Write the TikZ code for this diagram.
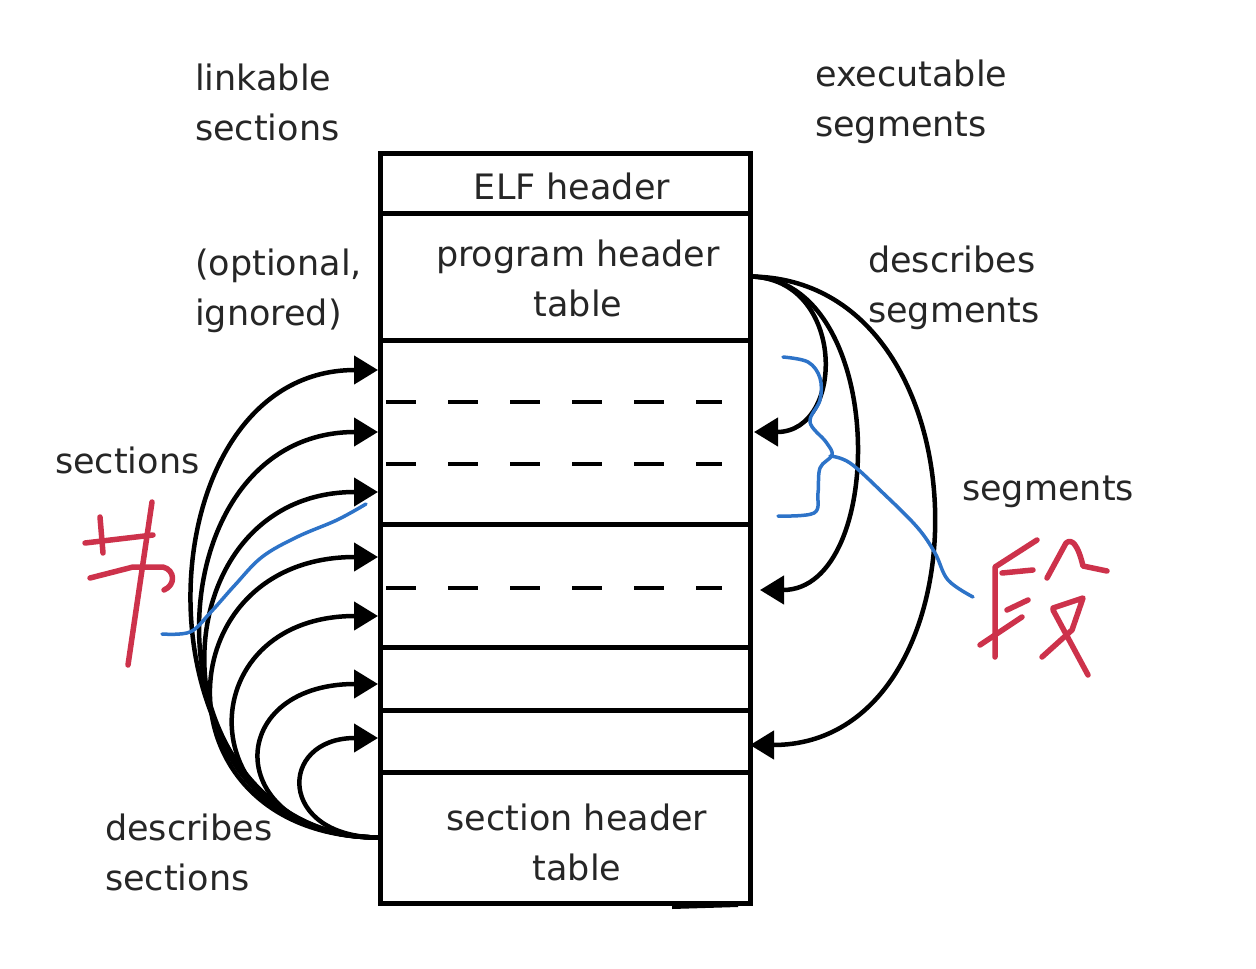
\documentclass[tikz,border=0pt]{standalone}
\usepackage{fontspec}
\setmainfont{DejaVu Sans}
\usetikzlibrary{arrows.meta}
\definecolor{inkblue}{RGB}{45,115,200}
\definecolor{inkred}{RGB}{205,50,75}
\begin{document}
\begin{tikzpicture}[x=1pt,y=-1pt,
  row/.style={draw, line width=5pt, inner sep=0pt, outer sep=0pt, minimum width=370pt, anchor=north west},
  lbl/.style={font=\fontsize{35}{50}\selectfont, text=black!85, align=left, inner sep=0pt, anchor=west},
  ctr/.style={font=\fontsize{35}{50}\selectfont, text=black!85, align=center, inner sep=0pt},
  arr/.style={line width=4.5pt, -{Triangle[length=24pt,width=28pt]}},
  dsh/.style={line width=4.5pt, dash pattern=on 30pt off 32pt},
  blueink/.style={draw=inkblue, line width=3.5pt, line cap=round, line join=round},
  redink/.style={draw=inkred, line width=5.5pt, line cap=round, line join=round}]
\useasboundingbox[fill=white] (0,0) rectangle (1256,969);

% file rows
\node[row, minimum height=60pt]  (elf) at (380,153) {};
\node[row, minimum height=127pt] (pht) at (380,213) {};
\node[row, minimum height=184pt] (s1)  at (380,340) {};
\node[row, minimum height=123pt] (s2)  at (380,524) {};
\node[row, minimum height=63pt]  (s3)  at (380,647) {};
\node[row, minimum height=62pt]  (s4)  at (380,710) {};
\node[row, minimum height=131pt] (sht) at (380,772) {};

\node[ctr] (elft) at (572,186) {ELF header};
\node[ctr] (phtt) at (578,278) {program header\\table};
\node[ctr] (shtt) at (577,842) {section header\\table};

% dashed dividers
\draw[dsh] (386,402) -- (722,402);
\draw[dsh] (386,464) -- (722,464);
\draw[dsh] (386,588) -- (722,588);

% labels
\node[lbl] (lk)  at (195,102) {linkable\\sections};
\node[lbl] (ex)  at (815,102) {executable\\segments};
\node[lbl] (opt) at (195,291) {(optional,\\ignored)};
\node[lbl] (dsg) at (868,288) {describes\\segments};
\node[lbl] (sec) at (55,460) {sections};
\node[lbl] (seg) at (962,492) {segments};
\node[lbl] (dsc) at (105,852) {describes\\sections};

% left arrow targets
\coordinate (L1) at (378,370);
\coordinate (L2) at (378,432);
\coordinate (L3) at (378,492);
\coordinate (L4) at (378,557);
\coordinate (L5) at (378,616);
\coordinate (L6) at (378,684);
\coordinate (L7) at (378,738);
\draw[arr] (sht.west) .. controls (128,838) and (135,370) .. (L1);
\draw[arr] (sht.west) .. controls (141,838) and (145,432) .. (L2);
\draw[arr] (sht.west) .. controls (148,838) and (152,492) .. (L3);
\draw[arr] (sht.west) .. controls (155,838) and (160,557) .. (L4);
\draw[arr] (sht.west) .. controls (185,838) and (188,616) .. (L5);
\draw[arr] (sht.west) .. controls (221,838) and (221,684) .. (L6);
\draw[arr] (sht.west) .. controls (277,838) and (277,738) .. (L7);

% right arrow targets
\coordinate (R1) at (754,432);
\coordinate (R2) at (760,590);
\coordinate (R3) at (750,745);
\draw[arr] (pht.east) .. controls (846,278) and (846,432) .. (R1);
\draw[arr] (pht.east) .. controls (888,278) and (888,590) .. (R2);
\draw[arr] (pht.east) .. controls (993,278) and (993,745) .. (R3);

% blue handwriting
\draw[blueink] plot[smooth, tension=0.6] coordinates {(783,357) (808,362) (820,378) (820,400) (810,422) (826,442) (832,455) (820,468) (818,493) (814,513) (778,516)};
\draw[blueink] plot[smooth, tension=0.6] coordinates {(830,456) (850,463) (883,493) (917,527) (935,553) (948,580) (973,597)};
\draw[blueink] plot[smooth, tension=0.6] coordinates {(162,634) (190,632) (210,613) (235,585) (262,557) (297,537) (337,520) (366,504)};

% red handwriting: jie
\draw[redink] (85,543) -- (153,535);
\draw[redink] (100,517) -- (103,553);
\draw[redink] (152,502) -- (128,665);
\draw[redink] (90,578) -- (133,567) -- (163,567) .. controls (175,570) and (176,585) .. (164,590);

% red handwriting: duan
\draw[redink] (1037,540) -- (995,567) -- (995,657);
\draw[redink] (1002,573) -- (1033,570);
\draw[redink] (1007,610) -- (1028,600);
\draw[redink] (980,645) -- (1022,617);
\draw[redink] (1047,578) -- (1066,543) .. controls (1072,538) and (1078,545) .. (1083,566) -- (1107,571);
\draw[redink] (1053,608) -- (1083,598) -- (1072,630) -- (1042,657);
\draw[redink] (1053,610) -- (1088,675);

% smudge under box
\draw[line width=6pt] (672,906) -- (738,904);
\end{tikzpicture}
\end{document}
